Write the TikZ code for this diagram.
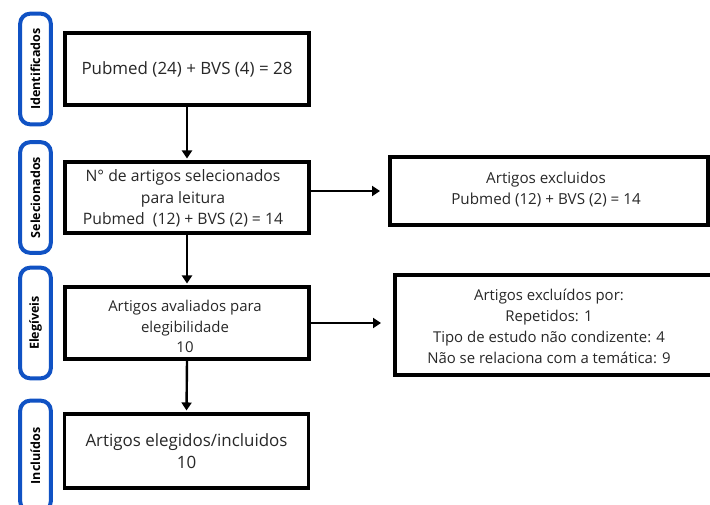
\documentclass[tikz,border=0pt]{standalone}
\usepackage{fontspec}
\setmainfont{Open Sans}
\usetikzlibrary{arrows.meta,calc}
\definecolor{sideblue}{RGB}{16,82,196}
\definecolor{txt}{RGB}{40,40,40}
\begin{document}
\begin{tikzpicture}[x=0.75pt,y=-0.75pt,
  mainbox/.style={draw=black,line width=2.3pt,fill=white,align=center,text=txt,
    font=\fontsize{12.7}{16.5}\selectfont,inner sep=0pt,minimum width=183pt},
  sidebox/.style={draw=black,line width=3pt,fill=white,inner sep=0pt},
  label/.style={text=txt,align=center,inner sep=0pt},
  stage/.style={draw=sideblue,line width=3pt,rounded corners=7.5pt,rotate=90,
    minimum width=83pt,minimum height=23pt,inner sep=0pt,
    font=\fontsize{9.4}{10}\selectfont\bfseries,text=black},
  arr/.style={line width=1.8pt,-{Triangle[length=6pt,width=7.5pt]}}]
\clip (0,0) rectangle (710,504);
\fill[white] (0,0) rectangle (710,504);
% stage labels
\node[stage] (s1) at (35.5,69) {Identificados};
\node[stage] (s2) at (35.5,197.5) {Selecionados};
\node[stage] (s3) at (35.5,323) {Elegíveis};
\node[stage] (s4) at (35.5,456) {Incluídos};
% main boxes
\node[mainbox,minimum height=54pt] (b1) at (187,69) {Pubmed (24) + BVS (4) = 28};
\node[mainbox,minimum height=53.25pt] (b2) at (187,197.5) {};
\node[label,font=\fontsize{11.8}{16}\selectfont] (t2) at (183,198.5) {N° de artigos selecionados\\para leitura\\Pubmed\ \ (12) + BVS (2) = 14};
\node[mainbox,minimum height=54pt] (b3) at (187,323) {};
\node[label,font=\fontsize{11.2}{15.5}\selectfont] (t3) at (185,326.5) {Artigos avaliados para\\elegibilidade\\10};
\node[mainbox,minimum height=55.5pt] (b4) at (186.5,451) {Artigos elegidos/incluidos\\10};
% right boxes
\node[sidebox,minimum width=238.5pt,minimum height=51pt] (r1) at (549,191) {};
\node[label,font=\fontsize{11.4}{16}\selectfont] (t5) at (546,189.5) {Artigos excluidos\\Pubmed (12) + BVS (2) = 14};
\node[sidebox,minimum width=237.75pt,minimum height=75pt] (r2) at (553.5,325) {};
\node[label,font=\fontsize{11.2}{15.7}\selectfont] (t6) at (549,326.5) {Artigos excluídos por:\\Repetidos: 1\\Tipo de estudo não condizente: 4\\Não se relaciona com a temática: 9};
% arrows
\draw[arr,shorten >=1.5pt] (b1.south) -- (b2.north);
\draw[arr,shorten >=1.5pt] (b2.south) -- (b3.north);
\draw[arr,shorten >=1.5pt] (b3.south) -- (b4.north);
\draw[arr,shorten >=6pt] (r1.west -| b2.east) -- (r1.west);
\draw[arr,shorten >=9pt] (b3.east) -- (b3.east -| r2.west);
\end{tikzpicture}
\end{document}
